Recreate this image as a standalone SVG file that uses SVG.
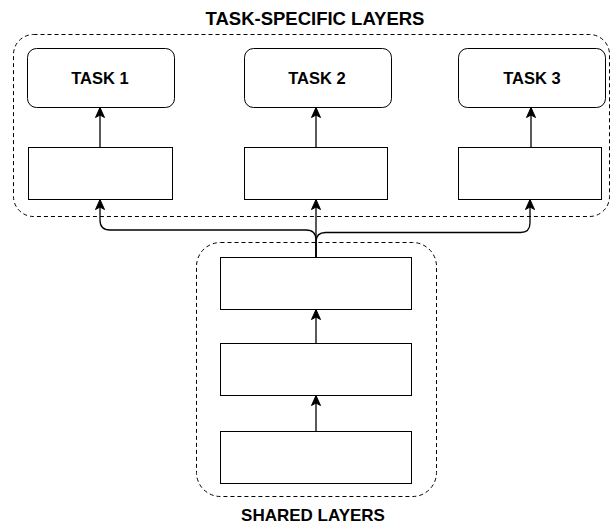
<svg xmlns="http://www.w3.org/2000/svg" width="611" height="525" viewBox="0 0 611 525">
<style>
.grp{fill:none;stroke:#000;stroke-width:1;stroke-dasharray:4 3}
.task{fill:#fff;stroke:#000;stroke-width:1}
.layer{fill:#fff;stroke:#000;stroke-width:1}
.lbl{font-family:"Liberation Sans",Arial,Helvetica,sans-serif;font-weight:bold;fill:#000;text-anchor:middle}
.edge{fill:none;stroke:#000;stroke-width:1.3;marker-end:url(#arr)}
</style>
<defs>
<marker id="arr" markerUnits="userSpaceOnUse" viewBox="-11 -5.5 12 11" refX="0" refY="0" markerWidth="12" markerHeight="11" orient="auto">
<path d="M0,0 L-10,-4.5 L-7.5,0 L-10,4.5 Z" fill="#000" stroke="#000" stroke-width="1"/>
</marker>
</defs>
<rect width="611" height="525" fill="#fff"/>
<g id="task-specific-group">
<rect class="grp" x="13.5" y="34.5" width="596" height="182" rx="20" ry="20"/>
<text class="lbl" x="315" y="25" font-size="18.5">TASK-SPECIFIC LAYERS</text>
</g>
<g id="shared-group">
<rect class="grp" x="196.5" y="242.5" width="240" height="254" rx="24" ry="24"/>
<text class="lbl" x="313" y="521" font-size="17">SHARED LAYERS</text>
</g>
<g id="task1"><rect class="task" x="27.5" y="48.5" width="147" height="59" rx="9" ry="9"/><text class="lbl" x="100" y="84" font-size="16.5">TASK 1</text></g>
<g id="task2"><rect class="task" x="244.5" y="48.5" width="147" height="59" rx="9" ry="9"/><text class="lbl" x="317" y="84" font-size="16.5">TASK 2</text></g>
<g id="task3"><rect class="task" x="458.5" y="48.5" width="147" height="59" rx="9" ry="9"/><text class="lbl" x="532" y="84" font-size="16.5">TASK 3</text></g>
<g id="head1"><rect class="layer" x="28.5" y="147.5" width="144" height="52"/></g>
<g id="head2"><rect class="layer" x="244.5" y="147.5" width="143" height="52"/></g>
<g id="head3"><rect class="layer" x="458.5" y="147.5" width="143" height="52"/></g>
<g id="shared3"><rect class="layer" x="220.5" y="257.5" width="191" height="52"/></g>
<g id="shared2"><rect class="layer" x="220.5" y="343.5" width="191" height="52"/></g>
<g id="shared1"><rect class="layer" x="220.5" y="431.5" width="191" height="52"/></g>
<g id="connectors">
<path class="edge" d="M316,431.5 L316,395.5"/>
<path class="edge" d="M316,343.5 L316,309.5"/>
<path class="edge" d="M316,257.5 L316,199.5"/>
<path class="edge" d="M316,257.5 L316,240 Q316,230 306,230 L110,230 Q100,230 100,220 L100,199.5"/>
<path class="edge" d="M316,257.5 L316,242 Q316,232.5 325.5,232.5 L520.5,232.5 Q530,232.5 530,223 L530,199.5"/>
<path class="edge" d="M100,147.5 L100,107.5"/>
<path class="edge" d="M316,147.5 L316,107.5"/>
<path class="edge" d="M531,147.5 L531,107.5"/>
</g>
</svg>
